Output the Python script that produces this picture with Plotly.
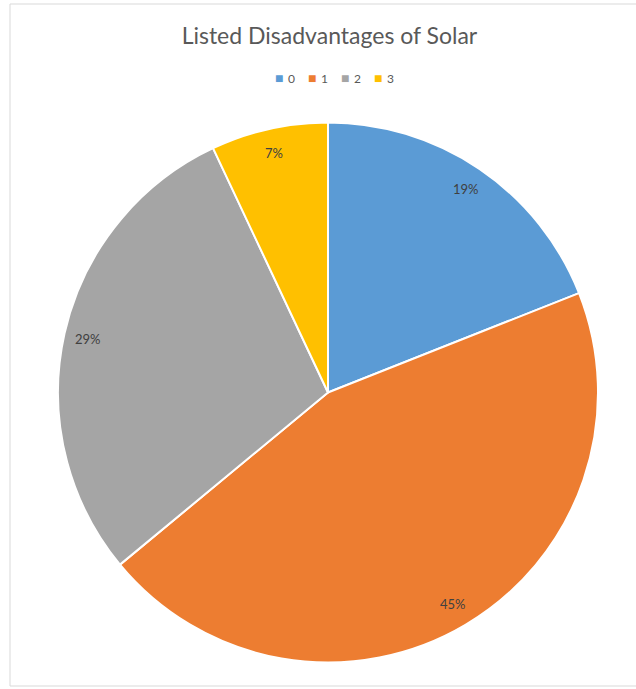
import math
import plotly.graph_objects as go

categories = ["0", "1", "2", "3"]
values = [19, 45, 29, 7]
colors = ["#5B9BD5", "#ED7D31", "#A5A5A5", "#FFC000"]
title_text = "Listed Disadvantages of Solar"

W, H = 636, 689
cx, cy, R = 328, 392.5, 270
FONT = "Lato, Open Sans, sans-serif"

fig = go.Figure(go.Pie(
    labels=categories, values=values, sort=False, direction="clockwise", rotation=0,
    marker=dict(colors=colors, line=dict(color="white", width=2)),
    textinfo="none", hoverinfo="label+percent", showlegend=False,
    domain=dict(x=[(cx - R) / W, (cx + R) / W], y=[1 - (cy + R) / H, 1 - (cy - R) / H]),
))

total = sum(values)
cum = 0
annotations = []
for v in values:
    mid = (cum + v / 2) / total * 2 * math.pi
    cum += v
    rl = 0.91 * R
    px = cx + rl * math.sin(mid)
    py = cy - rl * math.cos(mid)
    annotations.append(dict(
        x=px / W, y=1 - py / H, xref="paper", yref="paper",
        xanchor="center", yanchor="middle",
        text=f"{round(v / total * 100)}%", showarrow=False,
        font=dict(family=FONT, size=13, color="#404040"),
    ))

# legend row (square marker + category label)
leg_x0, leg_step, leg_y = 273, 33, 78
for i, (cat, col) in enumerate(zip(categories, colors)):
    annotations.append(dict(
        x=(leg_x0 + i * leg_step) / W, y=1 - leg_y / H, xref="paper", yref="paper",
        xanchor="left", yanchor="middle", showarrow=False,
        text=f'<span style="color:{col};font-size:14px">■</span><span style="font-size:6px">&nbsp;</span>&nbsp;{cat}',
        font=dict(family=FONT, size=12, color="#595959"),
    ))

fig.update_layout(
    width=W, height=H, margin=dict(l=0, r=0, t=0, b=0),
    paper_bgcolor="white", plot_bgcolor="white",
    title=dict(text=title_text, x=0.518, xanchor="center", y=1 - 36 / H, yanchor="middle",
               font=dict(family=FONT, size=23, color="#595959")),
    annotations=annotations,
    shapes=[dict(type="rect", xref="paper", yref="paper",
                 x0=10 / W, x1=1.02, y0=1 - 686 / H, y1=1 - 4 / H,
                 line=dict(color="#D9D9D9", width=1), fillcolor="rgba(0,0,0,0)")],
)

fig.write_html("out.html")
